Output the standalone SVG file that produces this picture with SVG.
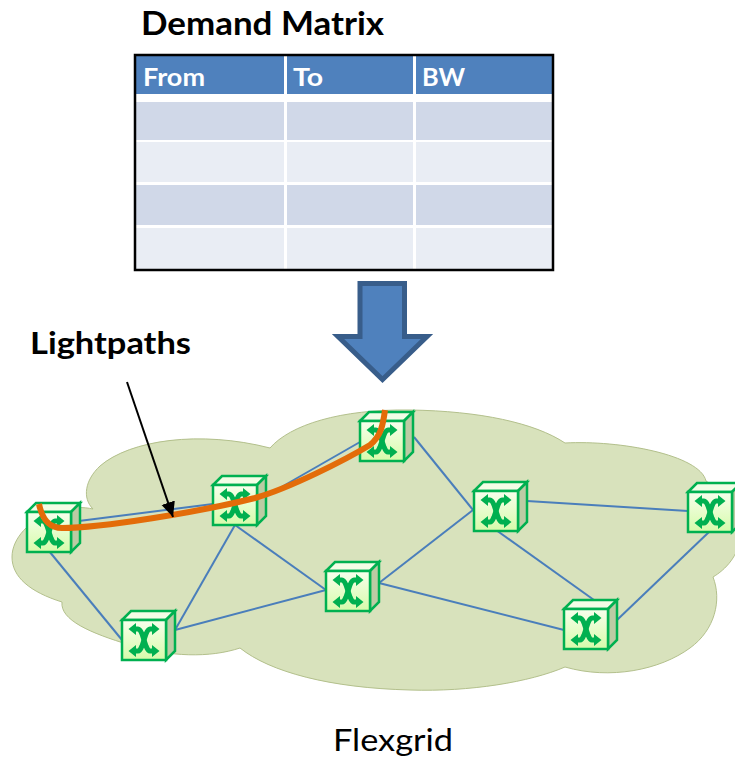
<svg xmlns="http://www.w3.org/2000/svg" width="735" height="758" viewBox="0 0 735 758">
<style>
.t{font-family:Lato,"Open Sans","Liberation Sans",sans-serif;font-weight:700}
.cell{stroke:none}
.h{fill:#4f81bd}.a{fill:#d0d8e8}.b{fill:#e9edf4}
.ht{fill:#fff;font-size:24px}
.link{stroke:#4a7ebb;stroke-width:2;fill:none}
.gl{fill:none;stroke:#00b050;stroke-width:5;stroke-linejoin:round}
.gh{fill:#00b050}
</style>
<defs>
<linearGradient id="fg" x1="0" y1="0" x2="0" y2="1"><stop offset="0" stop-color="#f7ffec"/><stop offset="1" stop-color="#d6fbaa"/></linearGradient>
<marker id="ah" markerUnits="userSpaceOnUse" markerWidth="18" markerHeight="18" refX="15" refY="7" orient="auto"><path d="M0,0L15,7L0,14Z" fill="#000"/></marker>
<g id="sw">
<path d="M0,0L9,-9H53V30L44,40H0Z" fill="#fff" stroke="none"/>
<path d="M0,0L9,-9H53L44,0Z" fill="#f3fde6" stroke="#00b050" stroke-width="2.500"/>
<path d="M44,0L53,-9V31L44,40Z" fill="#bccba4" stroke="#00b050" stroke-width="2.500"/>
<rect x="0" y="0" width="44" height="40" fill="url(#fg)" stroke="#00b050" stroke-width="2.500"/>
<path class="gl" d="M12,9H16Q18,9 20,14L24,26Q26,31 28,31H32"/>
<path class="gl" d="M32,9H28Q26,9 24,14L20,26Q18,31 16,31H12"/>
<path class="gh" d="M6.500,9L14,3V15Z M37.500,9L30,3V15Z M6.500,31L14,25V37Z M37.500,31L30,25V37Z"/>
</g>
</defs>
<rect width="735" height="758" fill="#fff"/>
<g id="title"><text class="t" x="141" y="35" font-size="32" fill="#000" textLength="243" lengthAdjust="spacingAndGlyphs">Demand Matrix</text></g>
<g id="table">
<rect class="cell h" x="136" y="56" width="148" height="38"/><rect class="cell h" x="287" y="56" width="126" height="38"/><rect class="cell h" x="416" y="56" width="137" height="38"/>
<rect class="cell a" x="136" y="102" width="148" height="38"/><rect class="cell a" x="287" y="102" width="126" height="38"/><rect class="cell a" x="416" y="102" width="137" height="38"/>
<rect class="cell b" x="136" y="142" width="148" height="40"/><rect class="cell b" x="287" y="142" width="126" height="40"/><rect class="cell b" x="416" y="142" width="137" height="40"/>
<rect class="cell a" x="136" y="185" width="148" height="40"/><rect class="cell a" x="287" y="185" width="126" height="40"/><rect class="cell a" x="416" y="185" width="137" height="40"/>
<rect class="cell b" x="136" y="228" width="148" height="41"/><rect class="cell b" x="287" y="228" width="126" height="41"/><rect class="cell b" x="416" y="228" width="137" height="41"/>
<rect x="135" y="55" width="418" height="215" fill="none" stroke="#000" stroke-width="2.500"/>
<text class="t ht" x="143" y="86" textLength="62" lengthAdjust="spacingAndGlyphs">From</text>
<text class="t ht" x="293" y="86" textLength="30" lengthAdjust="spacingAndGlyphs">To</text>
<text class="t ht" x="422" y="86" textLength="43" lengthAdjust="spacingAndGlyphs">BW</text>
</g>
<g id="down-arrow"><path d="M360,283.500H404.500V336.500H427L382.500,379.500L338,336.500H360Z" fill="#4f81bd" stroke="#385d8a" stroke-width="5"/></g>
<g id="lightpaths-label"><text class="t" x="30" y="354" font-size="30" fill="#000" textLength="161" lengthAdjust="spacingAndGlyphs">Lightpaths</text></g>
<g id="cloud"><path d="M62,602C30,592 12,577 12,557C12,538 30,520 51,513C70,506 84,507 93,509C82,498 85,480 100,466C130,440 200,430 270,448C290,425 340,409 410,410C480,411 535,423 565,443C620,440 700,455 706,481C720,490 740,515 740,535C740,555 725,570 713,577C722,600 715,630 690,648C660,670 610,680 565,667C530,682 470,692 410,690C330,688 270,672 240,648C210,658 170,657 130,645C90,633 60,620 62,602Z" fill="#d8e2bc" stroke="#b3c08c" stroke-width="1"/></g>
<g id="connectors">
<path class="link" d="M71,522L213,504"/>
<path class="link" d="M257,501L360,442"/>
<path class="link" d="M49,551L122,640"/>
<path class="link" d="M235,525L175,630"/>
<path class="link" d="M235,525L326,590"/>
<path class="link" d="M175,630L326,590"/>
<path class="link" d="M379,583L473,510"/>
<path class="link" d="M414,437L473,510"/>
<path class="link" d="M379,583L564,630"/>
<path class="link" d="M496,530L594,600"/>
<path class="link" d="M527,501L688,511"/>
<path class="link" d="M617,620L709,532"/>
</g>
<g id="node-1"><use href="#sw" x="27" y="512"/></g>
<g id="node-2"><use href="#sw" x="213" y="485"/></g>
<g id="node-3"><use href="#sw" x="122" y="620"/></g>
<g id="node-4"><use href="#sw" x="326" y="571"/></g>
<g id="node-5"><use href="#sw" x="360" y="421"/></g>
<g id="node-6"><use href="#sw" x="474" y="491"/></g>
<g id="node-7"><use href="#sw" x="564" y="609"/></g>
<g id="node-8"><use href="#sw" x="688" y="492"/></g>
<g id="lightpath"><path d="M39,504C42,518 48,528 62,528C100,528 200,512 255,498C290,488 345,460 370,445C381,436 383,425 385,410" fill="none" stroke="#e36c09" stroke-width="6"/></g>
<g id="pointer"><path d="M127,382L173,517" fill="none" stroke="#000" stroke-width="2" marker-end="url(#ah)"/></g>
<g id="flexgrid"><text x="333" y="751" font-family="Lato,'Open Sans','Liberation Sans',sans-serif" font-size="30" fill="#000" textLength="120" lengthAdjust="spacingAndGlyphs">Flexgrid</text></g>
</svg>
